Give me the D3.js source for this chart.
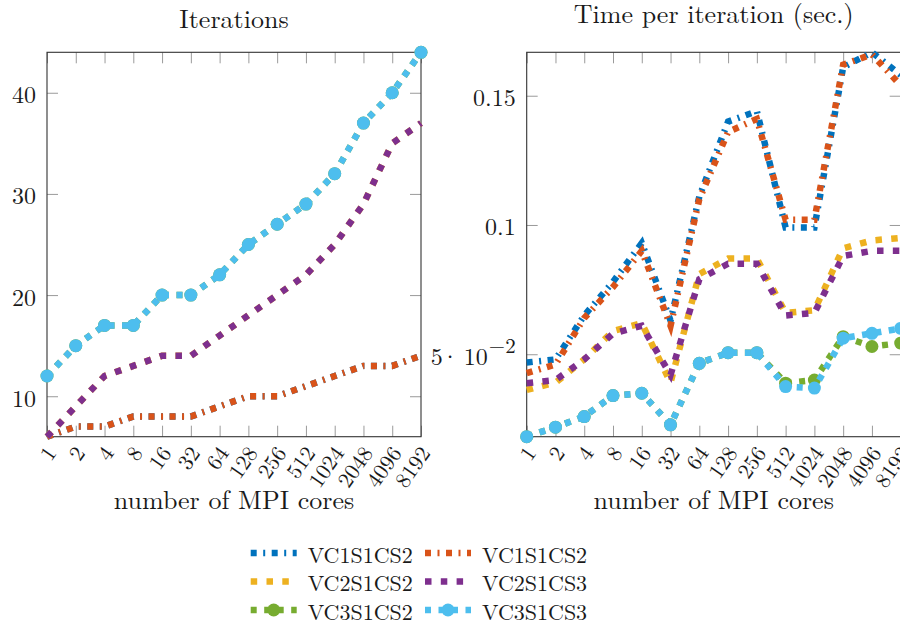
<!DOCTYPE html>
<html>
<head>
<meta charset="utf-8">
<script src="https://cdn.jsdelivr.net/npm/d3@7"></script>
<style>
  body { margin: 0; background: #fff; }
</style>
</head>
<body>
<div id="chart"></div>
<script>
// x categories (MPI cores)
const cores = ["1", "2", "4", "8", "16", "32", "64", "128", "256", "512", "1024", "2048", "4096", "8192"];

// Iterations
const iterVC1S1CS2a = [6, 7, 7, 8, 8, 8, 9, 10, 10, 11, 12, 13, 13, 14];
const iterVC1S1CS2b = [6, 7, 7, 8, 8, 8, 9, 10, 10, 11, 12, 13, 13, 14];
const iterVC2S1CS2 = [6, 9, 12, 13, 14, 14, 16, 18, 20, 22, 25, 29, 35, 37];
const iterVC2S1CS3 = [6, 9, 12, 13, 14, 14, 16, 18, 20, 22, 25, 29, 35, 37];
const iterVC3S1CS2 = [12, 15, 17, 17, 20, 20, 22, 25, 27, 29, 32, 37, 40, 44];
const iterVC3S1CS3 = [12, 15, 17, 17, 20, 20, 22, 25, 27, 29, 32, 37, 40, 44];

// Time per iteration (sec.)
const timeVC1S1CS2a = [0.0468, 0.048, 0.065, 0.078, 0.093, 0.063, 0.111, 0.140, 0.144, 0.099, 0.099, 0.161, 0.1668, 0.158];
const timeVC1S1CS2b = [0.0427, 0.046, 0.064, 0.076, 0.090, 0.061, 0.110, 0.136, 0.141, 0.102, 0.102, 0.162, 0.166, 0.154];
const timeVC2S1CS2 = [0.0362, 0.039, 0.048, 0.059, 0.062, 0.039, 0.081, 0.087, 0.087, 0.066, 0.067, 0.091, 0.094, 0.095];
const timeVC2S1CS3 = [0.0388, 0.040, 0.048, 0.058, 0.061, 0.042, 0.079, 0.085, 0.085, 0.065, 0.066, 0.088, 0.090, 0.090];
const timeVC3S1CS2 = [0.0181, 0.0218, 0.0259, 0.034, 0.0349, 0.0227, 0.0465, 0.0506, 0.0506, 0.0388, 0.040, 0.0568, 0.053, 0.0543];
const timeVC3S1CS3 = [0.0181, 0.0218, 0.0259, 0.034, 0.0349, 0.0227, 0.0465, 0.0506, 0.0506, 0.0375, 0.0369, 0.0562, 0.0581, 0.060];

const seriesNames = ["VC1S1CS2", "VC1S1CS2", "VC2S1CS2", "VC2S1CS3", "VC3S1CS2", "VC3S1CS3"];

// styles
const seriesColors = ["#0072bd", "#d95319", "#edb120", "#7e2f8e", "#77ac30", "#4dbeee"];
const seriesDash = ["6,6.5,2,6.5", "6,6.5,2,6.5", "6.5,9.3", "6.5,9.3", "6,7.5", "6,7.5"];
const seriesMarker = [false, false, false, false, true, true];

const iterData = [iterVC1S1CS2a, iterVC1S1CS2b, iterVC2S1CS2, iterVC2S1CS3, iterVC3S1CS2, iterVC3S1CS3];
const timeData = [timeVC1S1CS2a, timeVC1S1CS2b, timeVC2S1CS2, timeVC2S1CS3, timeVC3S1CS2, timeVC3S1CS3];

const series = seriesNames.map((name, i) => ({
  name: name,
  color: seriesColors[i],
  dash: seriesDash[i],
  marker: seriesMarker[i],
  iter: iterData[i],
  time: timeData[i]
}));

// SVG area
const svgWidth = 900;
const svgHeight = 626;
const plotWidth = 374;
const plotHeight = 384.4;
const plotTop = 52.3;
const lineWidth = 6.5;
const serif = "'Latin Modern Roman', 'Liberation Serif', serif";

const svg = d3.select("#chart")
  .append("svg")
  .attr("width", svgWidth)
  .attr("height", svgHeight);

const x = d3.scalePoint()
  .domain(cores)
  .range([0, plotWidth]);

function drawPanel(left, key, title, titleY, yTicks, yFormat) {
  const g = svg.append("g")
    .attr("transform", `translate(${left}, ${plotTop})`);

  const y = d3.scaleLinear()
    .domain(d3.extent(series.flatMap(s => s[key])))
    .range([plotHeight, 0]);

  // ticks on all four sides, pointing inside
  const bottom = g.append("g")
    .attr("transform", `translate(0, ${plotHeight})`)
    .call(d3.axisBottom(x).tickSize(-11).tickPadding(0));
  g.append("g")
    .call(d3.axisTop(x).tickSize(-11).tickFormat(""));
  const leftAxis = g.append("g")
    .call(d3.axisLeft(y).tickValues(yTicks).tickSize(-11).tickPadding(11).tickFormat(yFormat));
  g.append("g")
    .attr("transform", `translate(${plotWidth}, 0)`)
    .call(d3.axisRight(y).tickValues(yTicks).tickSize(-11).tickFormat(""));

  g.selectAll(".domain").remove();
  g.selectAll(".tick line").attr("stroke", "#9a9a9a").attr("stroke-width", 1);

  bottom.selectAll("text")
    .attr("y", null)
    .attr("dy", null)
    .attr("dominant-baseline", "central")
    .attr("text-anchor", "end")
    .attr("transform", "translate(2, 11) rotate(-55)")
    .style("font-size", "22px");

  leftAxis.selectAll("text")
    .attr("dy", null)
    .attr("dominant-baseline", "central")
    .style("font-size", "24px");

  // frame
  g.append("rect")
    .attr("width", plotWidth)
    .attr("height", plotHeight)
    .attr("fill", "none")
    .attr("stroke", "#333")
    .attr("stroke-width", 1.1);

  const line = d3.line()
    .x((d, i) => x(cores[i]))
    .y(d => y(d));

  series.forEach(s => {
    g.append("path")
      .attr("d", line(s[key]))
      .attr("fill", "none")
      .attr("stroke", s.color)
      .attr("stroke-width", lineWidth)
      .attr("stroke-dasharray", s.dash)
      .attr("stroke-linejoin", "miter")
      .attr("stroke-miterlimit", 10);

    if (s.marker) {
      g.selectAll(null)
        .data(s[key])
        .enter()
        .append("circle")
        .attr("cx", (d, i) => x(cores[i]))
        .attr("cy", d => y(d))
        .attr("r", 6.5)
        .attr("fill", s.color);
    }
  });

  // title and axis label
  g.append("text")
    .attr("x", plotWidth / 2)
    .attr("y", titleY - plotTop)
    .attr("text-anchor", "middle")
    .style("font-size", "26px")
    .text(title);

  g.append("text")
    .attr("x", plotWidth / 2)
    .attr("y", 509 - plotTop)
    .attr("text-anchor", "middle")
    .style("font-size", "26px")
    .text("number of MPI cores");

  return leftAxis;
}

drawPanel(47, "iter", "Iterations", 28, [10, 20, 30, 40], d3.format("d"));

const timeAxis = drawPanel(526.7, "time", "Time per iteration (sec.)", 23, [0.05, 0.1, 0.15],
  d => d === 0.05 ? "5" : String(d));

// rest of the 5·10^-2 label
const expLabel = timeAxis.selectAll(".tick text").filter(d => d === 0.05);
expLabel.append("tspan").attr("dx", -2).text("·");
expLabel.append("tspan").attr("dx", 4.5).text("10");
expLabel.append("tspan")
  .attr("dx", 1)
  .attr("dy", "-0.5em")
  .style("font-size", "21px")
  .text("−2");

// Legend, two columns by three rows
const legendCols = [250.7, 425];
const legendRows = [553, 581.5, 610];
const legendLen = 46;

series.forEach((s, i) => {
  const lx = legendCols[i % 2];
  const ly = legendRows[Math.floor(i / 2)];
  const item = svg.append("g").attr("transform", `translate(${lx}, ${ly})`);

  item.append("line")
    .attr("x1", 0)
    .attr("x2", legendLen)
    .attr("stroke", s.color)
    .attr("stroke-width", lineWidth)
    .attr("stroke-dasharray", s.dash);

  if (s.marker) {
    item.append("circle")
      .attr("cx", legendLen / 2)
      .attr("r", 6.5)
      .attr("fill", s.color);
  }

  item.append("text")
    .attr("x", legendLen + 11)
    .attr("dominant-baseline", "central")
    .style("font-size", "22px")
    .text(s.name);
});

// one font for every text
svg.selectAll("text")
  .style("font-family", serif)
  .style("fill", "#1a1a1a");
</script>
</body>
</html>
